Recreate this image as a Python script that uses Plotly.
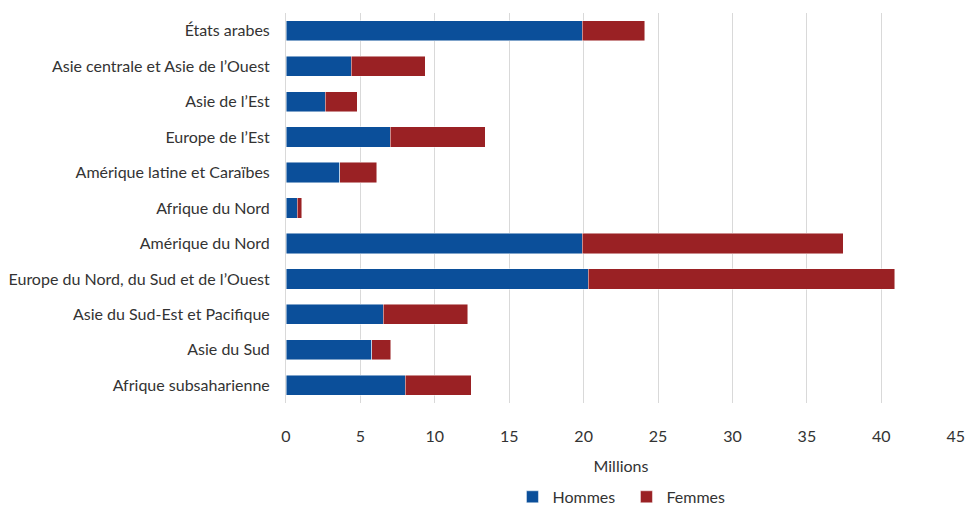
import plotly.graph_objects as go

regions = [
    "États arabes",
    "Asie centrale et Asie de l’Ouest",
    "Asie de l’Est",
    "Europe de l’Est",
    "Amérique latine et Caraïbes",
    "Afrique du Nord",
    "Amérique du Nord",
    "Europe du Nord, du Sud et de l’Ouest",
    "Asie du Sud-Est et Pacifique",
    "Asie du Sud",
    "Afrique subsaharienne",
]
hommes = [19.9, 4.4, 2.65, 7.0, 3.6, 0.75, 19.9, 20.3, 6.55, 5.75, 8.0]
femmes = [4.2, 4.95, 2.15, 6.4, 2.5, 0.32, 17.55, 20.6, 5.65, 1.3, 4.45]
xticks = [0, 5, 10, 15, 20, 25, 30, 35, 40, 45]

FONT = "Lato, 'Open Sans', sans-serif"
FS = 16
COL = "#333333"

fig = go.Figure()
fig.add_trace(go.Bar(
    y=regions, x=hommes, orientation="h", name="Hommes",
    marker=dict(color="#0B4F9A", line=dict(color="rgba(255,255,255,0.6)", width=0.8)),
))
fig.add_trace(go.Bar(
    y=regions, x=femmes, orientation="h", name="Femmes",
    marker=dict(color="#9A2124", line=dict(color="rgba(255,255,255,0.6)", width=0.8)),
))

fig.update_layout(
    barmode="stack",
    bargap=0.43,
    width=967, height=506,
    margin=dict(l=286, r=11, t=13, b=103, autoexpand=False),
    paper_bgcolor="white", plot_bgcolor="white",
    font=dict(family=FONT, size=FS, color=COL),
    legend=dict(orientation="h", x=0.338, xanchor="left",
                yref="container", y=0.018, yanchor="middle",
                font=dict(size=FS, color=COL), traceorder="normal",
                itemwidth=30, entrywidthmode="pixels", entrywidth=69),
    xaxis=dict(
        range=[0, 45.02], tickvals=xticks, ticktext=[str(v) for v in xticks],
        showgrid=True, gridcolor="#d9d9d9", gridwidth=1, zeroline=False,
        ticklabelstandoff=22, tickfont=dict(size=FS, color=COL),
        ticklabeloverflow="allow",
        title=dict(text="Millions", font=dict(size=FS, color=COL), standoff=16),
        showline=False, automargin=False,
    ),
    yaxis=dict(
        autorange="reversed", showline=True, linecolor="#d9d9d9", linewidth=1,
        tickfont=dict(size=FS, color=COL), ticklabelstandoff=12,
        showgrid=False, automargin=False,
    ),
)

fig.write_html("out.html")
